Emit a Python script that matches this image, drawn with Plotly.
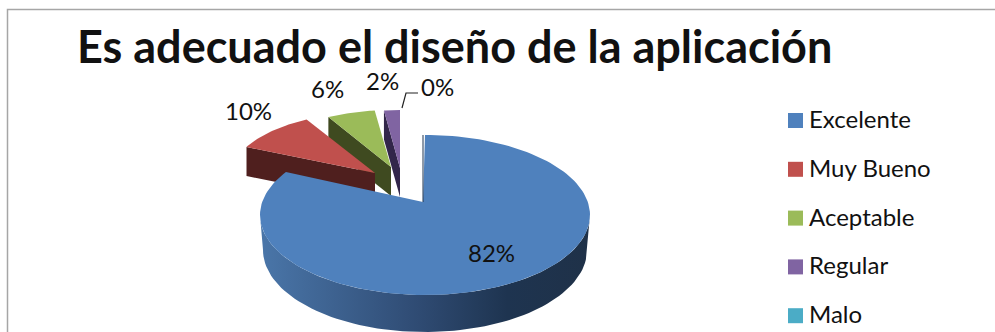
import math
import numpy as np
import plotly.graph_objects as go

title = "Es adecuado el diseño de la aplicación"
categories = ["Excelente", "Muy Bueno", "Aceptable", "Regular", "Malo"]
shares = [82, 10, 6, 2, 0]
colors = ["#4F81BD", "#C0504D", "#9BBB59", "#8064A2", "#4BACC6"]
wall_colors = ["#2F4B73", "#4F1F1E", "#3F4A20", "#32264A", "#24586A"]

FONT = "Lato"
TEXT = "#111111"
# exploded-slice geometry in the picture's projection: apex, radii
apex = {1: (375, 173), 2: (391, 167), 3: (400, 168)}
radii = {1: (142, 61), 2: (130, 57), 3: (128, 58)}
DEPTH = 29
BLUE_C = (425, 215)
BLUE_R = (165, 80)
BLUE_APEX = (423, 202)
ANGLE_SKEW = 1.025
KEY_X = 795.5
KEY_TEXT_X = 807
KEY_TEXT_DY = -2
KEY_TOP = 120.5
KEY_STEP = 48.8

cum = np.cumsum([0] + shares) / sum(shares) * 360.0


def pt(c, r, deg):
    a = math.radians(deg)
    return c[0] + r[0] * math.sin(a), c[1] - r[1] * math.cos(a)


def arc(c, r, a0, a1, n=80):
    return [pt(c, r, d) for d in np.linspace(a0, a1, n)]


fig = go.Figure()


def poly(points, color=None, gradient=None):
    xs = [p[0] for p in points]
    ys = [p[1] for p in points]
    kw = dict(fillgradient=gradient) if gradient else dict(fillcolor=color)
    fig.add_trace(go.Scatter(x=xs, y=ys, mode="lines", fill="toself", line=dict(width=0),
                             showlegend=False, hoverinfo="skip", **kw))


# exploded back slices, furthest first
for i in (3, 2, 1):
    a0, a1 = cum[i], cum[i + 1]
    ap = apex[i]
    outer = pt(ap, radii[i], a0)
    poly([outer, ap, (ap[0], ap[1] + DEPTH), (outer[0], outer[1] + DEPTH)], wall_colors[i])
    poly([ap] + arc(ap, radii[i], a0, a1, 30), colors[i])

# big slice: side wall with horizontal shading, then top
top_front = arc(BLUE_C, BLUE_R, 270, 90)
low_front = arc((BLUE_C[0], BLUE_C[1] + 35), (162, 82), 90, 270)
poly(top_front + low_front, gradient=dict(
    type="horizontal",
    colorscale=[[0, "#4A76A9"], [0.48, "#2F4B73"], [0.75, "#1E3450"], [1, "#1F3148"]]))
poly([BLUE_APEX] + arc(BLUE_C, BLUE_R, cum[0], cum[1] * ANGLE_SKEW, 160), colors[0])
fig.add_trace(go.Scatter(x=[BLUE_C[0] - 2, BLUE_APEX[0]], y=[135, BLUE_APEX[1]], mode="lines",
                         line=dict(color="#1E3450", width=1), showlegend=False, hoverinfo="skip"))

# leader line of the 0% label
fig.add_trace(go.Scatter(x=[402, 406, 418], y=[108, 93, 93], mode="lines",
                         line=dict(color="#222222", width=1.2), showlegend=False, hoverinfo="skip"))

# frame
fig.add_trace(go.Scatter(x=[7.5, 7.5, 996], y=[333, 9.5, 9.5], mode="lines",
                         line=dict(color="#A6A6A6", width=1.5), showlegend=False, hoverinfo="skip"))

# key entries
for k, (name, col) in enumerate(zip(categories, colors)):
    y = KEY_TOP + k * KEY_STEP
    fig.add_trace(go.Scatter(x=[KEY_X], y=[y], mode="markers", name=name,
                             marker=dict(symbol="square", size=15, color=col, line=dict(width=0)),
                             showlegend=False, hoverinfo="skip"))
    fig.add_annotation(x=KEY_TEXT_X, y=y + KEY_TEXT_DY, text=name, showarrow=False, xref="x", yref="y",
                       xanchor="left", font=dict(family=FONT, size=24, color=TEXT))

label_pos = [(491, 252), (248, 110), (327, 88), (382, 80), (437, 86)]
for v, (x, y) in zip(shares, label_pos):
    fig.add_annotation(x=x, y=y, text=f"{v}%", showarrow=False, xref="x", yref="y",
                       font=dict(family=FONT, size=24, color=TEXT))
fig.add_annotation(x=75, y=46, text=f"<b>{title}</b>", showarrow=False, xref="x", yref="y",
                   xanchor="left", font=dict(family=FONT, size=45, color=TEXT))

fig.update_layout(
    width=995, height=332, margin=dict(l=0, r=0, t=0, b=0, pad=0),
    paper_bgcolor="white", plot_bgcolor="white",
    xaxis=dict(range=[0, 995], visible=False, fixedrange=True),
    yaxis=dict(range=[332, 0], visible=False, fixedrange=True),
    showlegend=False,
)
fig.write_html("out.html", config=dict(displayModeBar=False),
               post_script="document.body.style.margin='0';document.body.style.overflow='hidden';")
